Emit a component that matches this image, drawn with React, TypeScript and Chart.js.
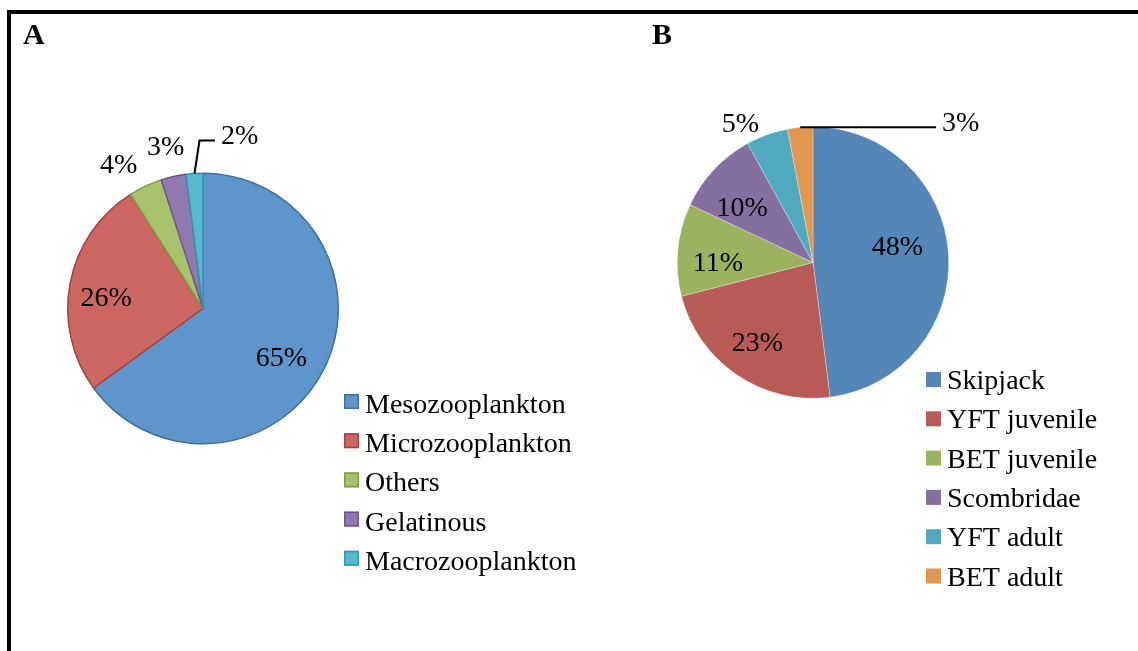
import React, { useEffect, useRef } from "react";
import { Chart, registerables } from "chart.js";

Chart.register(...registerables);

// ---- Data ----
const categoriesA = ["Mesozooplankton", "Microzooplankton", "Others", "Gelatinous", "Macrozooplankton"];
const valuesA = [65, 26, 4, 3, 2];
const categoriesB = ["Skipjack", "YFT juvenile", "BET juvenile", "Scombridae", "YFT adult", "BET adult"];
const valuesB = [48, 23, 11, 10, 5, 3];

// ---- Styles ----
const fillA = ["#5E96CB", "#CC6661", "#A8C36C", "#8F79B0", "#56B9CF"];
const borderA = ["#41709C", "#A2433F", "#7E9A48", "#6A5590", "#3794AC"];
const fillB = ["#5586B8", "#B85A56", "#9BB35F", "#856EA0", "#4FA9BF", "#E29750"];

// label placement relative to each slice: radius factor and angular nudge (degrees)
const labelLayoutA = [
  { f: 0.68, da: 4.5, leader: false },
  { f: 0.72, da: -4.1, leader: false },
  { f: 1.24, da: -5.0, leader: false },
  { f: 1.237, da: -0.3, leader: false },
  { f: 1.314, da: 15.5, leader: true },
];
const labelLayoutB = [
  { f: 0.634, da: -7.4, leader: false },
  { f: 0.71, da: 1.0, leader: false },
  { f: 0.70, da: -4.9, leader: false },
  { f: 0.665, da: -4.8, leader: false },
  { f: 1.163, da: -7.6, leader: false },
  { f: 1.505, da: 51.7, leader: true },
];

const FONT = "28px 'Liberation Serif', 'Times New Roman', serif";

function makePlugin(layout: any[], legend: any) {
  return {
    id: "customLabels",
    afterDraw(chart: any) {
      const ctx = chart.ctx;
      const meta = chart.getDatasetMeta(0);
      const ds = chart.data.datasets[0];
      ctx.save();
      ctx.font = FONT;
      ctx.fillStyle = "#000";
      ctx.textBaseline = "alphabetic";
      ctx.textAlign = "center";
      meta.data.forEach((arc: any, i: number) => {
        const p = arc.getProps(["x", "y", "startAngle", "endAngle", "outerRadius"], true);
        const mid = (p.startAngle + p.endAngle) / 2;
        const L = layout[i];
        const ang = mid + (L.da * Math.PI) / 180;
        const cx = p.x + Math.cos(ang) * L.f * p.outerRadius;
        const cy = p.y + Math.sin(ang) * L.f * p.outerRadius;
        const text = ds.data[i] + "%";
        ctx.fillText(text, cx, cy + 9.3);
        if (L.leader) {
          const w = ctx.measureText(text).width;
          const ex = p.x + Math.cos(mid) * p.outerRadius;
          const ey = p.y + Math.sin(mid) * p.outerRadius;
          const endX = cx - w / 2 - 6;
          const endY = cy + 6;
          ctx.beginPath();
          ctx.strokeStyle = "#000";
          ctx.lineWidth = 2;
          ctx.moveTo(ex, ey);
          ctx.lineTo(ex + 5, endY);
          ctx.lineTo(endX, endY);
          ctx.stroke();
        }
      });
      // legend
      ctx.textAlign = "left";
      chart.data.labels.forEach((lab: string, i: number) => {
        const top = legend.y + i * legend.step;
        ctx.fillStyle = ds.backgroundColor[i];
        ctx.fillRect(legend.x, top, 15, 15);
        if (legend.border) {
          ctx.strokeStyle = ds.borderColor[i];
          ctx.lineWidth = 1.5;
          ctx.strokeRect(legend.x + 0.75, top + 0.75, 13.5, 13.5);
        }
        ctx.fillStyle = "#000";
        ctx.fillText(lab, legend.tx, top + legend.base);
      });
      ctx.restore();
    },
  };
}

function PieCanvas(props: {
  labels: string[];
  values: number[];
  fill: string[];
  border: string[] | string;
  borderWidth: number;
  padding: any;
  layout: any[];
  legend: any;
  left: number;
  width: number;
}) {
  const ref = useRef<HTMLCanvasElement>(null);
  useEffect(() => {
    const chart = new Chart(ref.current as HTMLCanvasElement, {
      type: "pie",
      data: {
        labels: props.labels,
        datasets: [
          {
            data: props.values,
            backgroundColor: props.fill,
            borderColor: props.border as any,
            borderWidth: props.borderWidth,
          },
        ],
      },
      options: {
        responsive: false,
        animation: false,
        events: [],
        layout: { padding: props.padding },
        plugins: { legend: { display: false }, tooltip: { enabled: false } },
      },
      plugins: [makePlugin(props.layout, props.legend)],
    });
    return () => chart.destroy();
  }, []);
  return (
    <canvas
      ref={ref}
      width={props.width}
      height={651}
      style={{ position: "absolute", left: props.left, top: 0, width: props.width, height: 651 }}
    />
  );
}

export default function App() {
  return (
    <div
      style={{
        position: "fixed",
        left: 0,
        top: 0,
        width: 1138,
        height: 651,
        background: "#fff",
        overflow: "hidden",
      }}
    >
      <div
        style={{
          position: "absolute",
          left: 7,
          top: 10,
          width: 1200,
          height: 700,
          borderLeft: "4px solid #000",
          borderTop: "4px solid #000",
        }}
      />
      <PieCanvas
        labels={categoriesA}
        values={valuesA}
        fill={fillA}
        border={borderA}
        borderWidth={1.5}
        padding={{ left: 67, right: 301, top: 172, bottom: 206 }}
        layout={labelLayoutA}
        legend={{ x: 344, y: 394, step: 39.2, tx: 365, base: 19, border: true }}
        left={0}
        width={640}
      />
      <PieCanvas
        labels={categoriesB}
        values={valuesB}
        fill={fillB}
        border={"rgba(255,255,255,0.6)"}
        borderWidth={0.5}
        padding={{ left: 108, right: 189, top: 126, bottom: 252 }}
        layout={labelLayoutB}
        legend={{ x: 357, y: 372, step: 39.3, tx: 378, base: 17, border: false }}
        left={569}
        width={569}
      />
      <div
        style={{
          position: "absolute",
          left: 23,
          top: 18,
          font: "bold 30px 'Liberation Serif', serif",
          lineHeight: "32px",
          color: "#000",
        }}
      >
        A
      </div>
      <div
        style={{
          position: "absolute",
          left: 652,
          top: 18,
          font: "bold 30px 'Liberation Serif', serif",
          lineHeight: "32px",
          color: "#000",
        }}
      >
        B
      </div>
    </div>
  );
}
